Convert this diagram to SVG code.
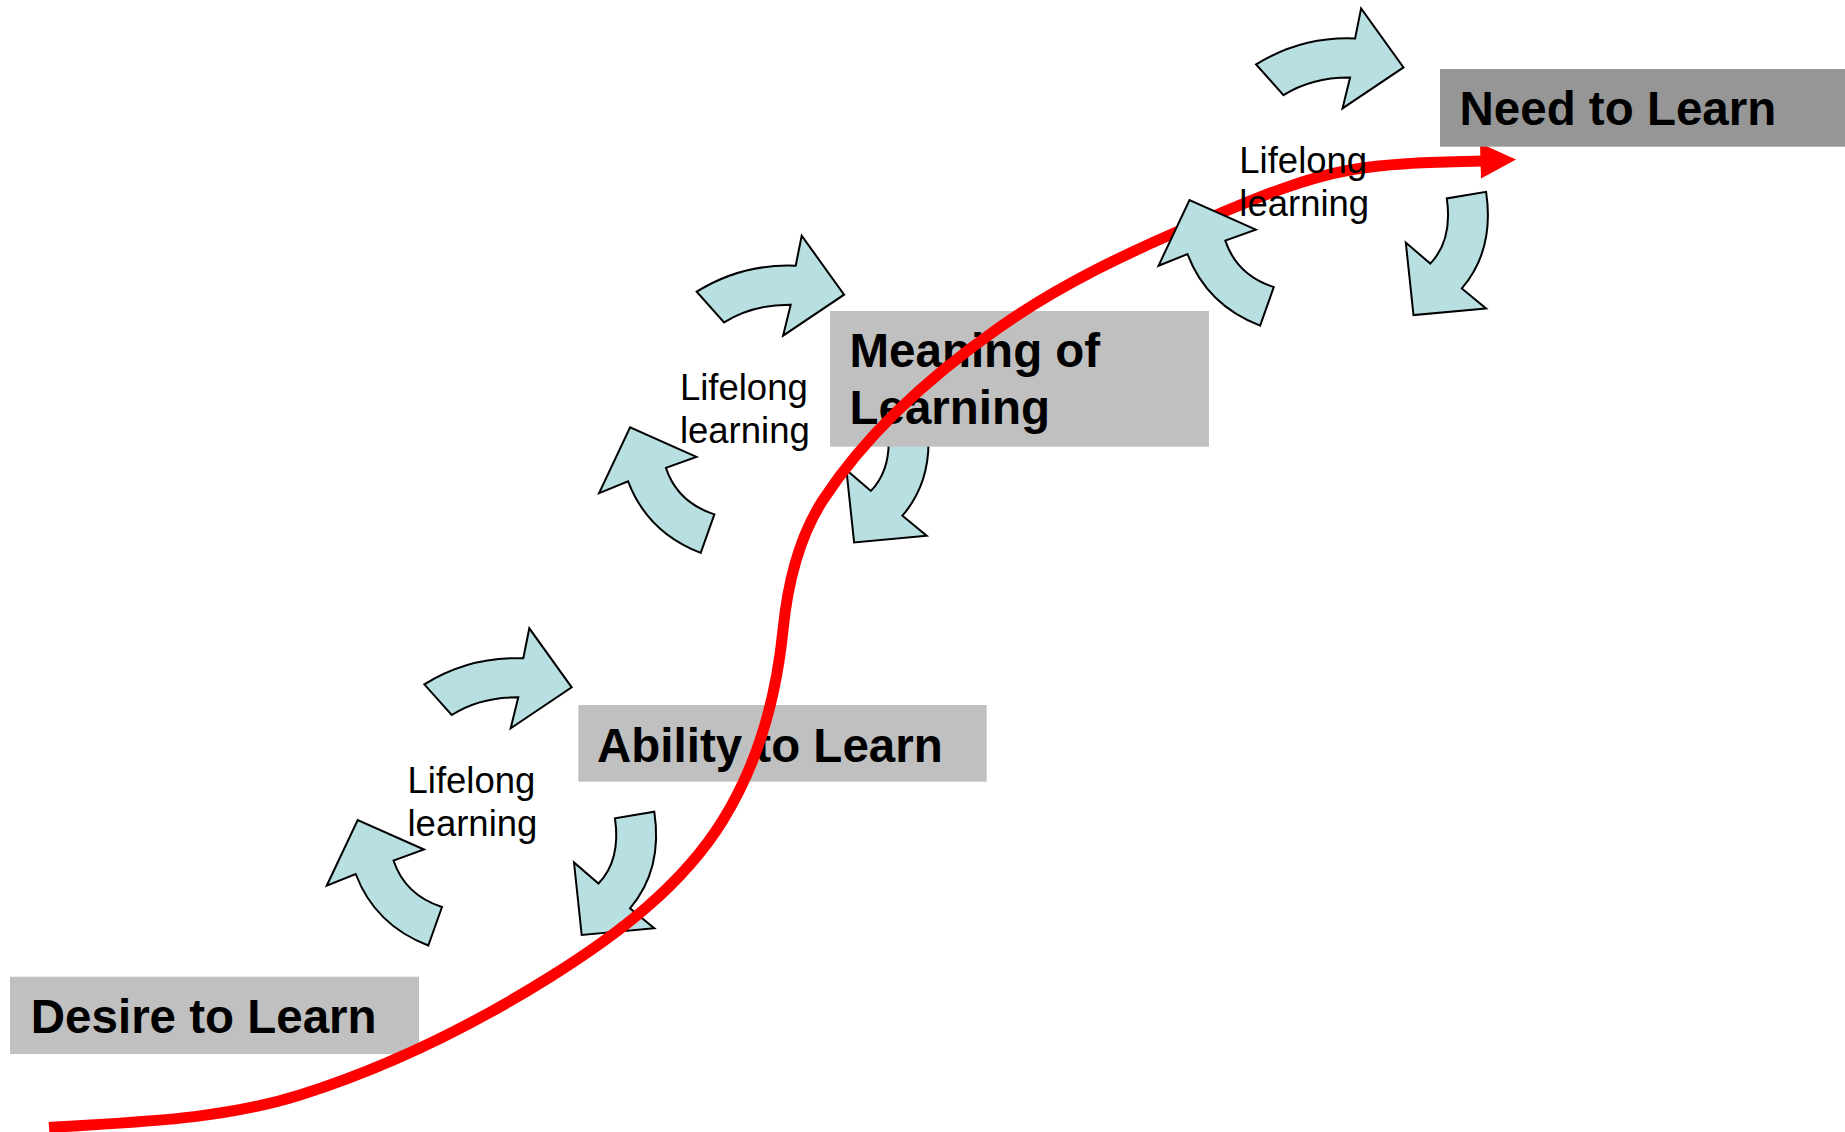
<svg xmlns="http://www.w3.org/2000/svg" xmlns:xlink="http://www.w3.org/1999/xlink" width="1845" height="1132" viewBox="0 0 1845 1132">
  <style>
    .cyc { fill: #B8DFE2; stroke: #000000; stroke-width: 2; stroke-linejoin: miter; }
    .lbl { font-family: "Liberation Sans", Arial, sans-serif; font-size: 36.5px; fill: #000000; }
    .box { fill: #C0C0C0; }
    .box-dark { fill: #969696; }
    .title { font-family: "Liberation Sans", Arial, sans-serif; font-size: 47.5px; font-weight: bold; fill: #000000; }
    .path { fill: none; stroke: #FF0000; stroke-width: 11; }
  </style>
  <defs>
    <!-- three curved block arrows forming a clockwise cycle -->
    <g id="cycleArrows">
      <path class="cyc" d="M424.3,684.3 Q470,656 523.3,658.3 L529.3,628.3 L571.7,687.3 L510.7,728.3 L518.3,697.3 Q480,697 451.7,715 Z"/>
      <path class="cyc" d="M654.3,811.7 Q663,870 630,908.3 L654.3,928.3 L581.7,935 L574,862.5 L598.5,883.5 Q621,860 615,818.3 Z"/>
      <path class="cyc" d="M428.3,945.5 Q375,925 355.7,874 L326.7,885.7 L357.7,820 L424,849.5 L393.5,860.5 Q405,895 442,907 Z"/>
    </g>
  </defs>

  <!-- lifelong learning cycle 1 -->
  <g id="cycle1">
    <use xlink:href="#cycleArrows" href="#cycleArrows"/>
    <text class="lbl" x="407.5" y="792.7">Lifelong</text>
    <text class="lbl" x="407.5" y="835.5">learning</text>
  </g>

  <!-- lifelong learning cycle 2 -->
  <g id="cycle2" transform="translate(272.4,-392.6)">
    <use xlink:href="#cycleArrows" href="#cycleArrows"/>
    <text class="lbl" x="407.5" y="792.7">Lifelong</text>
    <text class="lbl" x="407.5" y="835.5">learning</text>
  </g>

  <g id="desire">
    <rect class="box" x="10" y="976.7" width="409" height="77.3"/>
    <text class="title" x="30.8" y="1032.7">Desire to Learn</text>
  </g>

  <g id="ability">
    <rect class="box" x="578.3" y="705" width="408.4" height="76.7"/>
    <text class="title" x="597" y="761.7">Ability to Learn</text>
  </g>

  <g id="meaning">
    <rect class="box" x="830" y="311" width="379" height="135.7"/>
    <text class="title" x="849.5" y="366.7">Meaning of</text>
    <text class="title" x="849.5" y="424">Learning</text>
  </g>

  <!-- growth path -->
  <g id="connectors">
    <path class="path" d="M49,1127.5 C133.2,1121.9 219.5,1120.3 300,1095 C387.9,1067.3 471.8,1025.9 550,977 C616.1,935.7 682.1,886.3 723,820 C757.8,763.6 776.4,696 783,630 C787.5,584.9 798.3,538 823,500 C868,430.9 932.4,374.4 1000,327 C1061.7,283.8 1130.6,251.1 1200,222 C1248.8,201.5 1297.9,179.3 1350,170 C1392.7,162.4 1436.6,162.3 1482,161"/>
    <polygon fill="#FF0000" points="1480,143.3 1516,159.5 1481,178.5"/>
  </g>

  <!-- lifelong learning cycle 3 -->
  <g id="cycle3" transform="translate(831.8,-619.9)">
    <use xlink:href="#cycleArrows" href="#cycleArrows"/>
    <text class="lbl" x="407.5" y="792.7">Lifelong</text>
    <text class="lbl" x="407.5" y="835.5">learning</text>
  </g>

  <g id="need">
    <rect class="box-dark" x="1440" y="69" width="405" height="77.7"/>
    <text class="title" x="1459.5" y="125">Need to Learn</text>
  </g>
</svg>
